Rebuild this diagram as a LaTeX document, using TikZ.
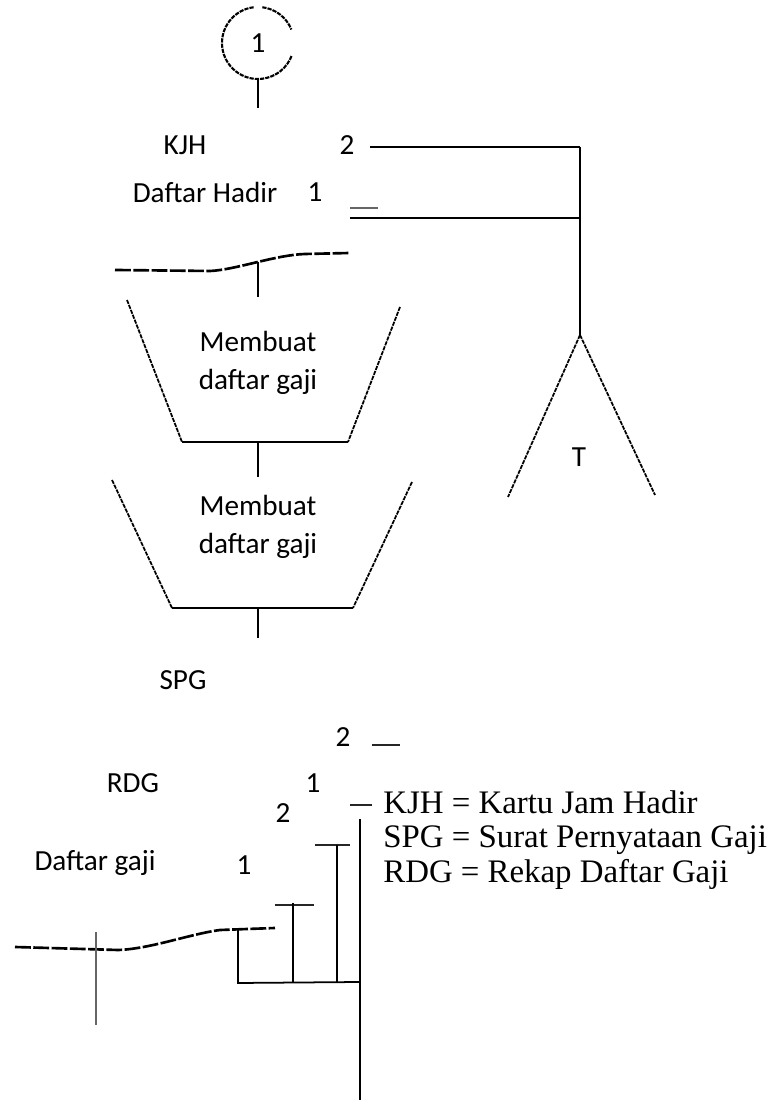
\documentclass[tikz,border=0pt]{standalone}
\usepackage{fontspec}
\setmainfont{Carlito}
\newfontfamily\legendfont{Liberation Serif}
\usetikzlibrary{positioning}

\tikzset{
	conn/.style={line width=1pt},
	rough/.style={line width=1pt, dash pattern=on 2.4pt off 0.6pt},
	wave/.style={line width=1.5pt, dash pattern=on 9pt off 1.4pt},
	stub/.style={line width=1.4pt, black!85},
	lbl/.style={font=\fontsize{16.6}{21.5}\selectfont, inner sep=0pt},
}

\begin{document}
\begin{tikzpicture}
	\useasboundingbox (0,0) rectangle (15.48,22.2);

	% off-page connector
	\node[lbl, circle, minimum size=1.44cm] (con) at (5.16, 21.34) {1};
	\draw[rough, line width=1.2pt] ([shift={(97:0.72)}]con.center) arc[start angle=97, end angle=340, radius=0.72];
	\draw[rough, line width=1.2pt] ([shift={(83:0.72)}]con.center) arc[start angle=83, end angle=22, radius=0.72];
	\coordinate[below=0.58cm of con.south] (conend);
	\draw[conn] (con.south) -- (conend);

	% KJH and daftar hadir
	\node[lbl] (kjh) at (3.70, 19.30) {KJH};
	\node[lbl] (kjhtwo) at (6.94, 19.30) {2};
	\node[lbl] (dh) at (4.10, 18.36) {Daftar Hadir};
	\node[lbl] (dhone) at (6.30, 18.36) {1};
	\coordinate (kjhout) at (7.40, 19.26);
	\coordinate (tjoin) at (11.60, 19.26);
	\coordinate (dhout) at (7.00, 17.84);
	\coordinate (dhjoin) at (11.60, 17.84);
	\draw[stub, black!60] (7.00, 18.04) -- (7.56, 18.04);
	\draw[conn] (kjhout) -- (tjoin);
	\draw[conn] (dhout) -- (dhjoin);

	% document edge
	\draw[wave] (2.30, 16.80) -- (4.20, 16.78) .. controls (4.70, 16.80) and (5.50, 17.10) .. (6.10, 17.12) -- (7.00, 17.14);
	\coordinate (wtop) at (5.16, 16.96);
	\coordinate (pone) at (5.16, 16.26);
	\draw[conn] (wtop) -- (pone);

	% manual process 1
	\node[lbl, align=center] (procone) at (5.16, 14.94) {Membuat\\daftar gaji};
	\coordinate (ponetl) at (2.54, 16.20);
	\coordinate (ponebl) at (3.64, 13.36);
	\coordinate (ponebr) at (6.96, 13.36);
	\coordinate (ponetr) at (8.00, 16.06);
	\draw[rough] (ponetl) -- (ponebl);
	\draw[rough] (ponetr) -- (ponebr);
	\draw[conn] (ponebl) -- (ponebr);
	\coordinate (poneout) at (5.16, 13.36);
	\coordinate (ptwo) at (5.16, 12.66);
	\draw[conn] (poneout) -- (ptwo);

	% manual process 2
	\node[lbl, align=center] (proctwo) at (5.16, 11.66) {Membuat\\daftar gaji};
	\coordinate (ptwotl) at (2.24, 12.60);
	\coordinate (ptwobl) at (3.44, 10.04);
	\coordinate (ptwobr) at (7.06, 10.04);
	\coordinate (ptwotr) at (8.24, 12.56);
	\draw[rough] (ptwotl) -- (ptwobl);
	\draw[rough] (ptwotr) -- (ptwobr);
	\draw[conn] (ptwobl) -- (ptwobr);
	\coordinate (ptwoout) at (5.16, 10.04);
	\coordinate (ptwoend) at (5.16, 9.44);
	\draw[conn] (ptwoout) -- (ptwoend);

	% file T
	\coordinate (tapex) at (11.60, 15.50);
	\coordinate (tleft) at (10.16, 12.26);
	\coordinate (tright) at (13.10, 12.30);
	\node[lbl] (tfile) at (11.58, 13.06) {T};
	\draw[conn] (tjoin) -- (tapex);
	\draw[rough] (tapex) -- (tleft);
	\draw[rough] (tapex) -- (tright);

	% output documents
	\node[lbl] (spg) at (3.66, 8.60) {SPG};
	\node[lbl] (spgtwo) at (6.86, 7.46) {2};
	\node[lbl] (rdg) at (2.66, 6.54) {RDG};
	\node[lbl] (rdgone) at (6.26, 6.54) {1};
	\node[lbl] (dgtwo) at (5.66, 5.94) {2};
	\node[lbl] (dg) at (1.90, 4.94) {Daftar gaji};
	\node[lbl] (dgone) at (4.88, 4.90) {1};
	\draw[stub] (7.44, 7.30) -- (8.00, 7.30);
	\draw[stub] (7.00, 6.10) -- (7.44, 6.10);
	\draw[stub] (6.30, 5.30) -- (7.00, 5.30);
	\draw[stub] (5.50, 4.10) -- (6.28, 4.10);
	\draw[wave] (0.30, 3.26) -- (2.36, 3.20) .. controls (3.00, 3.22) and (3.80, 3.52) .. (4.40, 3.60) -- (5.50, 3.64);

	% joining lines
	\coordinate (main) at (7.20, 5.82);
	\coordinate (mainend) at (7.20, 0.20);
	\coordinate (joinr) at (7.20, 2.56);
	\coordinate (spgdown) at (6.74, 5.30);
	\coordinate (spgfoot) at (6.74, 2.56);
	\coordinate (rdgdown) at (5.86, 4.14);
	\coordinate (rdgfoot) at (5.86, 2.56);
	\coordinate (dgdown) at (4.76, 3.62);
	\coordinate (dgfoot) at (4.76, 2.54);
	\draw[conn] (main) -- (mainend);
	\draw[line width=1.4pt] (spgdown) -- (spgfoot);
	\draw[conn] (rdgdown) -- (rdgfoot);
	\draw[conn] (dgdown) -- (dgfoot) -- (joinr);
	\draw[line width=1.2pt, black!60] (1.92, 3.56) -- (1.92, 1.70);

	% legend
	\node[anchor=west, align=left, inner sep=0pt, font=\legendfont\fontsize{18.7}{19.6}\selectfont] (legend) at (7.66, 5.40)
		{KJH = Kartu Jam Hadir\\SPG = Surat Pernyataan Gaji\\RDG = Rekap Daftar Gaji};

\end{tikzpicture}
\end{document}
